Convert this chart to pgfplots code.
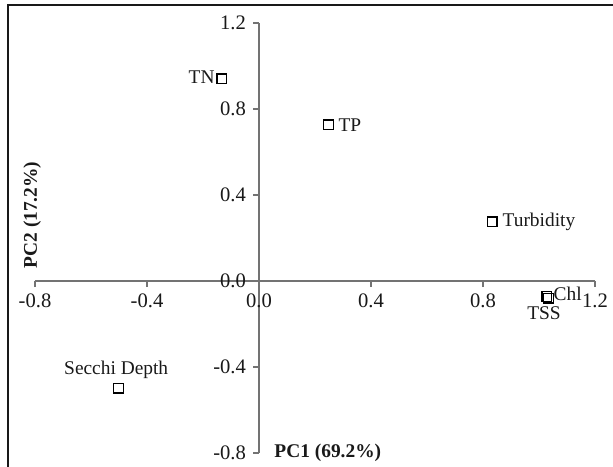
\documentclass[border=0pt]{standalone}
\usepackage{fontspec}
\setmainfont{Liberation Serif}
\usepackage{pgfplots}
\pgfplotsset{compat=1.18}
\begin{document}
\begin{tikzpicture}[font=\fontsize{9.7}{11}\selectfont]
\useasboundingbox (0,0) rectangle (306.5pt,-233pt);
\draw[black!90, line width=0.7pt] (4pt,-240pt) -- (4pt,-2.5pt) -- (310pt,-2.5pt);
\begin{axis}[
  at={(129.5pt,-140.5pt)}, anchor=origin,
  x=140pt, y=107.5pt,
  xmin=-0.8, xmax=1.2, ymin=-0.8, ymax=1.2,
  enlargelimits=false,
  axis lines=middle,
  axis line style={-, black!55, line width=0.6pt},
  tick style={black!55, line width=0.6pt},
  tick align=outside,
  major tick length=3pt,
  hide obscured x ticks=false,
  hide obscured y ticks=false,
  xtick={-0.8,-0.4,0,0.4,0.8,1.2},
  xticklabels={-0.8,-0.4,0.0,0.4,0.8,1.2},
  ytick={-0.8,-0.4,0,0.4,0.8,1.2},
  yticklabels={-0.8,-0.4,0.0,0.4,0.8,1.2},
  tick label style={font=\fontsize{10.3}{12}\selectfont, text=black!90},
  clip=false
]
\addplot[only marks, mark=square, mark size=2.4pt, mark options={black, line width=0.7pt}] coordinates {
  (-0.133,0.940) (0.248,0.726) (0.833,0.276) (1.028,-0.072) (1.034,-0.080) (-0.502,-0.499)
};
\node[anchor=east, text=black!90, inner sep=1pt] at (axis cs:-0.150,0.948) {TN};
\node[anchor=west, text=black!90, inner sep=1.5pt] at (axis cs:0.272,0.726) {TP};
\node[anchor=west, text=black!90, inner sep=1.5pt] at (axis cs:0.858,0.276) {Turbidity};
\node[anchor=west, text=black!90, inner sep=1pt] at (axis cs:1.044,-0.062) {Chl};
\node[text=black!90] at (axis cs:1.018,-0.150) {TSS};
\node[text=black!90] at (axis cs:-0.510,-0.415) {Secchi Depth};
\node[anchor=west, font=\fontsize{9.7}{11}\selectfont\bfseries, text=black!90] at (axis cs:0.030,-0.800) {PC1 (69.2\%)};
\node[rotate=90, font=\fontsize{9.7}{11}\selectfont\bfseries, text=black!90] at (axis cs:-0.810,0.307) {PC2 (17.2\%)};
\end{axis}
\end{tikzpicture}
\end{document}
